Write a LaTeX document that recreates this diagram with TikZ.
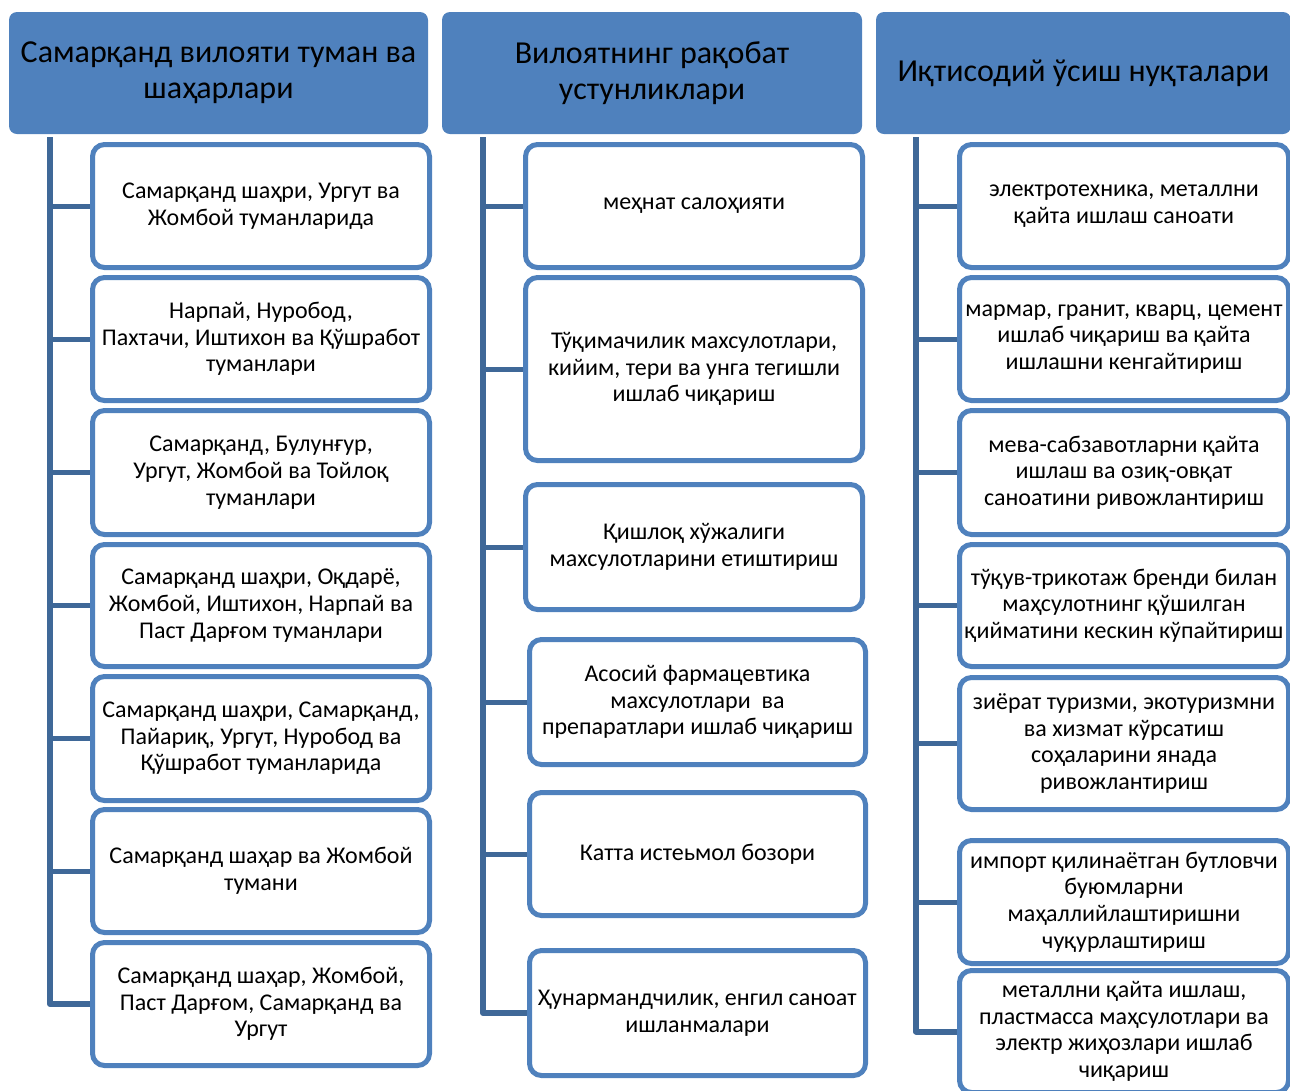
\documentclass[tikz,border=0pt]{standalone}
\usepackage{fontspec}
\setmainfont{Carlito}
\usetikzlibrary{backgrounds}

\definecolor{boxblue}{RGB}{79,129,189}
\definecolor{linkblue}{RGB}{63,104,152}

\tikzset{
  size/.style 2 args={minimum width=#1*0.75pt, minimum height=#2*0.75pt},
  head/.style={fill=boxblue, draw=none, rounded corners=6pt, inner sep=0pt,
    align=center, font=\fontsize{24}{27}\selectfont},
  item/.style={draw=boxblue, fill=white, line width=3.75pt, rounded corners=9pt,
    inner sep=0pt, align=center, font=\fontsize{18}{20}\selectfont},
  trunk/.style={draw=linkblue, line width=4.5pt, line join=round},
  twig/.style={draw=linkblue, line width=3.75pt},
}

\begin{document}
\begin{tikzpicture}[x=0.75pt, y=-0.75pt]
    \useasboundingbox (0,0) rectangle (1290,1090);

    % headers
    \node[head, size={419}{122}] (h1) at (218.5,73) {Самарқанд вилояти туман ва\\ шаҳарлари};
    \node[head, size={420}{122}] (h2) at (652,73) {Вилоятнинг рақобат\\ устунликлари};
    \node[head, size={415}{122}] (h3) at (1083.5,73) {Иқтисодий ўсиш нуқталари};

    % first column
    \node[item, size={337}{123}] (a1) at (261,206) {Самарқанд шаҳри, Ургут ва\\ Жомбой туманларида};
    \node[item, size={337}{123}] (a2) at (261,339) {Нарпай, Нуробод,\\ Пахтачи, Иштихон ва Қўшработ\\ туманлари};
    \node[item, size={337}{124}] (a3) at (261,472.5) {Самарқанд, Булунғур,\\ Ургут, Жомбой ва Тойлоқ\\ туманлари};
    \node[item, size={337}{122}] (a4) at (261,605.5) {Самарқанд шаҳри, Оқдарё,\\ Жомбой, Иштихон, Нарпай ва\\ Паст Дарғом туманлари};
    \node[item, size={337}{124}] (a5) at (261,738.5) {Самарқанд шаҳри, Самарқанд,\\ Пайариқ, Ургут, Нуробод ва\\ Қўшработ туманларида};
    \node[item, size={337}{123}] (a6) at (261,871) {Самарқанд шаҳар ва Жомбой\\ тумани};
    \node[item, size={337}{123}] (a7) at (261,1004) {Самарқанд шаҳар, Жомбой,\\ Паст Дарғом, Самарқанд ва\\ Ургут};

    % second column
    \node[item, size={337}{123}] (b1) at (694,206) {меҳнат салоҳияти};
    \node[item, size={337}{183}] (b2) at (694,369) {Тўқимачилик махсулотлари,\\ кийим, тери ва унга тегишли\\ ишлаб чиқариш};
    \node[item, size={337}{125}] (b3) at (694,547) {Қишлоқ хўжалиги\\ махсулотларини етиштириш};
    \node[item, size={336}{125}] (b4) at (697.5,702) {Асосий фармацевтика\\ махсулотлари\ \ ва\\ препаратлари ишлаб чиқариш};
    \node[item, size={336}{123}] (b5) at (697.5,854) {Катта истеьмол бозори};
    \node[item, size={336}{125}] (b6) at (697.5,1013) {Ҳунармандчилик, енгил саноат\\ ишланмалари};

    % third column
    \node[item, size={329}{123}] (c1) at (1124,206) {электротехника, металлни\\ қайта ишлаш саноати};
    \node[item, size={329}{123}] (c2) at (1124,339) {мармар, гранит, кварц, цемент\\ ишлаб чиқариш ва қайта\\ ишлашни кенгайтириш};
    \node[item, size={329}{124}] (c3) at (1124,472.5) {мева-сабзавотларни қайта\\ ишлаш ва озиқ-овқат\\ саноатини ривожлантириш};
    \node[item, size={329}{122}] (c4) at (1124,605.5) {тўқув-трикотаж бренди билан\\ маҳсулотнинг қўшилган\\ қийматини кескин кўпайтириш};
    \node[item, size={329}{132}] (c5) at (1124,743.5) {зиёрат туризми, экотуризмни\\ ва хизмат кўрсатиш\\ соҳаларини янада\\ ривожлантириш};
    \node[item, size={329}{123}] (c6) at (1124,902) {импорт қилинаётган бутловчи\\ буюмларни\\ маҳаллийлаштиришни\\ чуқурлаштириш};
    \node[item, size={329}{122}] (c7) at (1124,1031.5) {металлни қайта ишлаш,\\ пластмасса маҳсулотлари ва\\ электр жиҳозлари ишлаб\\ чиқариш};

    % trunk tops
    \coordinate (ta) at (50,137);
    \coordinate (tb) at (483,137);
    \coordinate (tc) at (916,137);

    \begin{pgfonlayer}{background}
      \draw[trunk] (ta) |- (a7);
      \draw[twig] (a1 -| ta) -- (a1);
      \draw[twig] (a2 -| ta) -- (a2);
      \draw[twig] (a3 -| ta) -- (a3);
      \draw[twig] (a4 -| ta) -- (a4);
      \draw[twig] (a5 -| ta) -- (a5);
      \draw[twig] (a6 -| ta) -- (a6);

      \draw[trunk] (tb) |- (b6);
      \draw[twig] (b1 -| tb) -- (b1);
      \draw[twig] (b2 -| tb) -- (b2);
      \draw[twig] (b3 -| tb) -- (b3);
      \draw[twig] (b4 -| tb) -- (b4);
      \draw[twig] (b5 -| tb) -- (b5);

      \draw[trunk] (tc) |- (c7);
      \draw[twig] (c1 -| tc) -- (c1);
      \draw[twig] (c2 -| tc) -- (c2);
      \draw[twig] (c3 -| tc) -- (c3);
      \draw[twig] (c4 -| tc) -- (c4);
      \draw[twig] (c5 -| tc) -- (c5);
      \draw[twig] (c6 -| tc) -- (c6);
    \end{pgfonlayer}
\end{tikzpicture}
\end{document}
